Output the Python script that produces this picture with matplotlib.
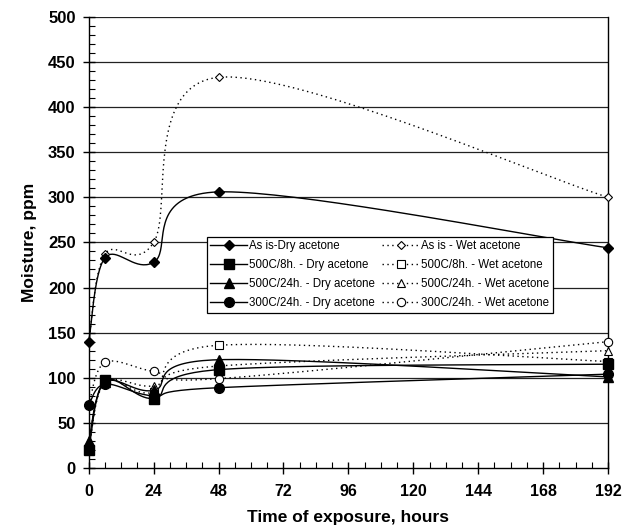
import numpy as np
import matplotlib
matplotlib.use("Agg")
import matplotlib.pyplot as plt
from matplotlib.lines import Line2D

plt.rcParams['font.family'] = ['Liberation Sans', 'DejaVu Sans']

hours = [0, 6, 24, 48, 192]

asis_dry = [140, 233, 228, 306, 244]
c500_8_dry = [20, 97, 77, 109, 115]
c500_24_dry = [30, 95, 86, 120, 101]
c300_24_dry = [70, 93, 80, 89, 104]

asis_wet = [140, 237, 250, 433, 300]
c500_8_wet = [20, 95, 84, 136, 118]
c500_24_wet = [30, 95, 91, 113, 130]
c300_24_wet = [70, 117, 107, 99, 140]

labels_dry = ["As is-Dry acetone", "500C/8h. - Dry acetone",
              "500C/24h. - Dry acetone", "300C/24h. - Dry acetone"]
labels_wet = ["As is - Wet acetone", "500C/8h. - Wet acetone",
              "500C/24h. - Wet acetone", "300C/24h. - Wet acetone"]

x_ticks = [0, 24, 48, 72, 96, 120, 144, 168, 192]
y_ticks = [0, 50, 100, 150, 200, 250, 300, 350, 400, 450, 500]


def smooth(xs, ys, n=40):
    p = np.column_stack([xs, ys]).astype(float)
    m = len(p)
    out = []
    for i in range(m - 1):
        p0 = p[i]
        p3 = p[i + 1]
        prev = p[i - 1] if i > 0 else p[i]
        nxt = p[i + 2] if i + 2 < m else p[i + 1]
        p1 = p0 + (p3 - prev) / 6.0
        p2 = p3 - (nxt - p0) / 6.0
        t = np.linspace(0, 1, n)[:, None]
        seg = ((1 - t) ** 3) * p0 + 3 * ((1 - t) ** 2) * t * p1 + 3 * (1 - t) * t ** 2 * p2 + t ** 3 * p3
        out.append(seg if i == 0 else seg[1:])
    c = np.vstack(out)
    return c[:, 0], c[:, 1]


fig = plt.figure(figsize=(6.34, 5.27), dpi=100)
ax = fig.add_axes([0.140, 0.112, 0.819, 0.856])

for yv in y_ticks[1:]:
    ax.axhline(yv, color='#222222', lw=0.9, zorder=1)

dry = [(asis_dry, 'D', 5.5), (c500_8_dry, 's', 7), (c500_24_dry, '^', 6.5), (c300_24_dry, 'o', 7)]
wet = [(asis_wet, 'D', 4), (c500_8_wet, 's', 6), (c500_24_wet, '^', 5.5), (c300_24_wet, 'o', 6)]

handles = []
for (vals, mk, ms), lab in zip(dry, labels_dry):
    sx, sy = smooth(hours, vals)
    ax.plot(sx, sy, color='black', lw=1.0, zorder=3, clip_on=False)
    ax.plot(hours, vals, linestyle='none', marker=mk, ms=ms, color='black', zorder=7, clip_on=False)
    handles.append(Line2D([], [], color='black', lw=1.0, marker=mk, ms=ms, label=lab))

wet_handles = []
for (vals, mk, ms), lab in zip(wet, labels_wet):
    sx, sy = smooth(hours, vals)
    ax.plot(sx, sy, color='black', lw=1.0, ls=(0, (1, 2.5)), zorder=3, clip_on=False)
    ax.plot(hours, vals, linestyle='none', marker=mk, ms=ms, mfc='white', mec='black', mew=0.8,
            zorder=6, clip_on=False)
    wet_handles.append(Line2D([], [], color='black', lw=1.0, ls=(0, (1, 2.5)), marker=mk, ms=ms,
                              mfc='white', mec='black', mew=0.8, label=lab))

ax.set_xlim(0, 192)
ax.set_ylim(0, 500)
ax.set_xticks(x_ticks)
ax.set_xticks(np.arange(0, 193, 6), minor=True)
ax.set_yticks(y_ticks)
ax.set_yticks(np.arange(0, 501, 10), minor=True)
ax.tick_params(axis='both', which='major', direction='inout', length=9, width=1)
ax.tick_params(axis='x', which='major', labelsize=11.5, pad=7)
ax.tick_params(axis='y', which='major', labelsize=12, pad=5)
ax.tick_params(axis='both', which='minor', direction='in', length=4, width=0.8)
for lbl in ax.get_xticklabels() + ax.get_yticklabels():
    lbl.set_fontweight('bold')

for s in ['left', 'bottom', 'right']:
    ax.spines[s].set_color('black')
    ax.spines[s].set_linewidth(1.0)
ax.spines['top'].set_visible(False)

ax.set_xlabel("Time of exposure, hours", fontsize=12.5, fontweight='bold', labelpad=8)
ax.set_ylabel("Moisture, ppm", fontsize=12.5, fontweight='bold', labelpad=8)

leg = ax.legend(handles=handles + wet_handles, ncol=2, loc='upper left',
                bbox_to_anchor=(0.227, 0.512), borderaxespad=0, fontsize=8.3,
                frameon=True, fancybox=False, edgecolor='black', framealpha=1,
                handlelength=3.2, handletextpad=0.2, columnspacing=0.6,
                labelspacing=0.6, borderpad=0.3)
leg.get_frame().set_linewidth(0.9)
leg.set_zorder(10)

fig.savefig("out.png", dpi=100)
